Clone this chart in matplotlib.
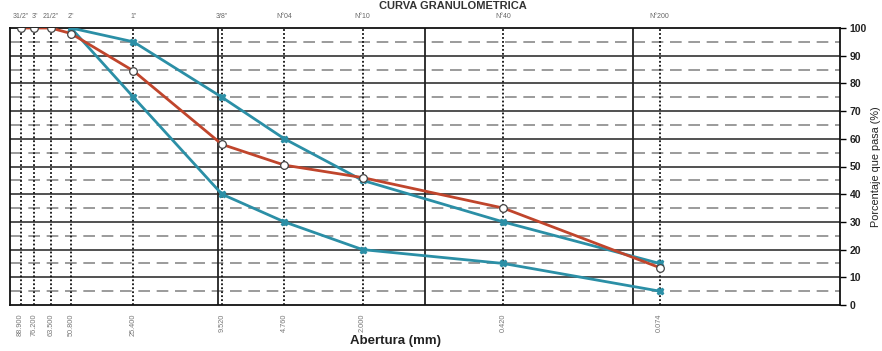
import numpy as np
import matplotlib
matplotlib.use("Agg")
import matplotlib.pyplot as plt

# aberturas de los tamices (mm) y nombres
aberturas = [88.900, 76.200, 63.500, 50.800, 25.400, 9.520, 4.760, 2.000, 0.420, 0.074]
tamices = ['31/2"', '3"', '21/2"', '2"', '1"', '3/8"', "N°04", "N°10", "N°40", "N°200"]
etiquetas_mm = ["88.900", "76.200", "63.500", "50.800", "25.400", "9.520", "4.760", "2.000", "0.420", "0.074"]

# curva de la muestra
pasa_muestra = [100, 100, 100, 98, 84.5, 58, 50.5, 46, 35, 13.5]

# limites del huso (desde 2")
aberturas_huso = [50.800, 25.400, 9.520, 4.760, 2.000, 0.420, 0.074]
huso_superior = [100, 95, 75, 60, 45, 30, 15]
huso_inferior = [100, 75, 40, 30, 20, 15, 5]

plt.rcParams['font.family'] = ['Liberation Sans', 'DejaVu Sans']

fig = plt.figure(figsize=(8.82, 3.51), dpi=100)
ax = fig.add_axes([10/882, 46/351, 830/882, 277/351])

ax.set_xscale('log')
ax.set_xlim(100, 0.01)
ax.set_ylim(0, 100)

# cuadricula
for y in range(10, 100, 10):
    ax.axhline(y, color='#222222', lw=1.1, zorder=1)
for y in range(5, 100, 10):
    ax.axhline(y, color='#8a8a8a', lw=1.2, dashes=(7, 4), zorder=1)
for x in [10, 1, 0.1]:
    ax.axvline(x, color='#222222', lw=1.3, zorder=1)
for x in aberturas:
    ax.axvline(x, color='#111111', lw=1.3, dashes=(1, 1.2), zorder=1)

azul = '#2b8fa6'
ax.plot(aberturas_huso, huso_superior, color=azul, lw=2, marker='X', ms=5, zorder=3)
ax.plot(aberturas_huso, huso_inferior, color=azul, lw=2, marker='X', ms=5, zorder=3)
ax.plot(aberturas, pasa_muestra, color='#c0452c', lw=2, marker='o', ms=5.5,
        mfc='white', mec='#444444', mew=0.9, zorder=4)

for s in ax.spines.values():
    s.set_color('#111111')
    s.set_linewidth(1.3)

ax.set_xticks(aberturas)
ax.set_xticklabels(etiquetas_mm, rotation=90, fontsize=5.3, color='#777777')
ax.xaxis.set_minor_locator(matplotlib.ticker.NullLocator())
ax.tick_params(axis='x', length=0, pad=6)

sec = ax.secondary_xaxis('top')
sec.set_xticks(aberturas)
sec.set_xticklabels(tamices, fontsize=5, color='#666666')
sec.xaxis.set_minor_locator(matplotlib.ticker.NullLocator())
sec.tick_params(length=0, pad=6)
sec.spines['top'].set_visible(False)

ax.yaxis.tick_right()
ax.set_yticks(range(0, 101, 10))
ax.tick_params(axis='y', length=4, width=1, pad=3, labelsize=7.5)
for t in ax.get_yticklabels():
    t.set_fontweight('bold')
    t.set_color('#222222')
ax.yaxis.set_label_position('right')
ax.set_ylabel('Porcentaje que pasa (%)', fontsize=7.8, color='#222222', labelpad=3)

fig.text(395/882, 1 - 341/351, 'Abertura (mm)', ha='center', va='center',
         fontsize=9.5, fontweight='bold', color='#222222')
fig.text(453/882, 1 - 1/351, 'CURVA GRANULOMETRICA', ha='center', va='top',
         fontsize=8, fontweight='bold', color='#333333')

fig.savefig('out.png', dpi=100)
